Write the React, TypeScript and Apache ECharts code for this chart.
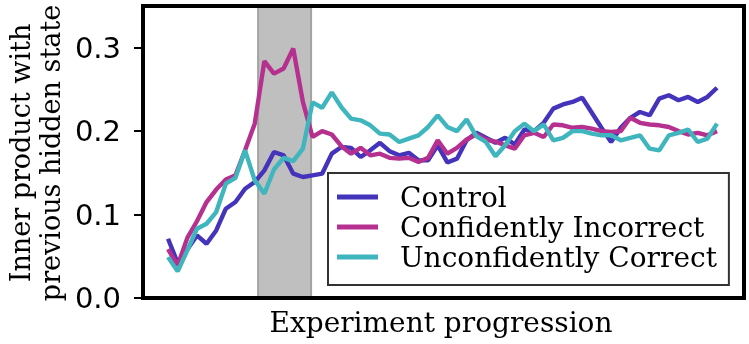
import React, { useEffect, useRef } from "react";
import * as echarts from "echarts";

const steps: number[] = Array.from({ length: 58 }, (_, i) => i);

const control: number[] = [
  0.071, 0.042, 0.058, 0.075, 0.065, 0.081, 0.107, 0.115, 0.131, 0.139,
  0.153, 0.175, 0.171, 0.149, 0.145, 0.147, 0.149, 0.173, 0.181, 0.18,
  0.169, 0.177, 0.186, 0.176, 0.171, 0.174, 0.165, 0.165, 0.183, 0.1625,
  0.167, 0.189, 0.198, 0.192, 0.186, 0.192, 0.184, 0.202, 0.2, 0.21,
  0.227, 0.232, 0.235, 0.24, 0.222, 0.204, 0.187, 0.204, 0.216, 0.223,
  0.219, 0.239, 0.243, 0.237, 0.241, 0.235, 0.241, 0.252,
];

const confidentlyIncorrect: number[] = [
  0.0585, 0.039, 0.072, 0.092, 0.115, 0.13, 0.142, 0.147, 0.177, 0.209,
  0.284, 0.269, 0.275, 0.299, 0.235, 0.193, 0.2, 0.196, 0.182, 0.173,
  0.18, 0.171, 0.173, 0.168, 0.167, 0.168, 0.163, 0.168, 0.189, 0.173,
  0.18, 0.19, 0.196, 0.19, 0.1875, 0.183, 0.179, 0.195, 0.198, 0.193,
  0.208, 0.207, 0.204, 0.205, 0.203, 0.2, 0.199, 0.2, 0.216, 0.21,
  0.208, 0.207, 0.205, 0.2, 0.196, 0.198, 0.195, 0.2,
];

const unconfidentlyCorrect: number[] = [
  0.049, 0.032, 0.057, 0.083, 0.089, 0.103, 0.137, 0.144, 0.177, 0.141,
  0.125, 0.154, 0.168, 0.164, 0.179, 0.2345, 0.228, 0.2465, 0.2286, 0.215,
  0.213, 0.207, 0.197, 0.196, 0.187, 0.191, 0.195, 0.205, 0.219, 0.205,
  0.2, 0.214, 0.194, 0.187, 0.17, 0.183, 0.2, 0.209, 0.2, 0.208,
  0.189, 0.192, 0.2, 0.2, 0.197, 0.195, 0.195, 0.189, 0.192, 0.195,
  0.179, 0.177, 0.195, 0.198, 0.202, 0.187, 0.191, 0.209,
];

const seriesNames: string[] = ["Control", "Confidently Incorrect", "Unconfidently Correct"];
const seriesColors: string[] = ["#4433bb", "#b5308f", "#3fb5bd"];
const shadedSpan: number[] = [9.35, 14.85];
const yTicks: number[] = [0, 0.1, 0.2, 0.3];

export default function App() {
  const ref = useRef<HTMLDivElement>(null);

  useEffect(() => {
    if (!ref.current) return;
    const chart = echarts.init(ref.current, null, { renderer: "svg" });
    const allData = [control, confidentlyIncorrect, unconfidentlyCorrect];
    const lineSeries = allData.map((vals, k) => ({
      name: seriesNames[k],
      type: "line",
      data: steps.map((s, i) => [s, vals[i]]),
      showSymbol: false,
      symbol: "none",
      color: seriesColors[k],
      lineStyle: { width: 4.4, color: seriesColors[k] },
      z: 3,
    }));
    chart.setOption({
      animation: false,
      grid: { left: 143, right: 5, top: 6, bottom: 46, containLabel: false },
      xAxis: {
        type: "value",
        min: -2.6,
        max: 59.8,
        axisLine: { show: false, onZero: false },
        axisTick: { show: false },
        axisLabel: { show: false },
        splitLine: { show: false },
      },
      yAxis: {
        type: "value",
        min: 0,
        max: 0.35,
        interval: 0.1,
        axisLine: { show: false, onZero: false },
        axisTick: {
          show: true,
          length: 9,
          inside: false,
          lineStyle: { color: "#000", width: 2 },
          customValues: yTicks,
        },
        axisLabel: {
          customValues: yTicks,
          formatter: (v: number) => v.toFixed(1),
          fontFamily: "DejaVu Sans",
          fontSize: 29,
          color: "#000",
          margin: 22,
        },
        splitLine: { show: false },
      },
      legend: {
        data: seriesNames,
        orient: "vertical",
        left: 328,
        top: 173,
        icon: "rect",
        itemWidth: 41,
        itemHeight: 5,
        itemGap: 0,
        padding: [9, 12, 13, 9],
        borderColor: "#333",
        borderWidth: 2,
        borderRadius: 0,
        backgroundColor: "#fff",
        textStyle: {
          fontFamily: "DejaVu Serif",
          fontSize: 28,
          color: "#000",
          lineHeight: 30,
          padding: [0, 0, 0, 17],
        },
      },
      graphic: [
        {
          type: "rect",
          shape: { x: 143, y: 6, width: 601, height: 292 },
          style: { fill: "none", stroke: "#000", lineWidth: 4 },
          z: 100,
          silent: true,
        },
        {
          type: "text",
          x: 20,
          y: 153,
          rotation: Math.PI / 2,
          style: {
            text: "Inner product with",
            font: '27px "DejaVu Serif"',
            fill: "#000",
            align: "center",
            verticalAlign: "middle",
          },
        },
        {
          type: "text",
          x: 50,
          y: 153,
          rotation: Math.PI / 2,
          style: {
            text: "previous hidden state",
            font: '27px "DejaVu Serif"',
            fill: "#000",
            align: "center",
            verticalAlign: "middle",
          },
        },
        {
          type: "text",
          x: 441,
          y: 322,
          style: {
            text: "Experiment progression",
            font: '28px "DejaVu Serif"',
            fill: "#000",
            align: "center",
            verticalAlign: "middle",
          },
        },
      ],
      series: [
        {
          name: "shade",
          type: "line",
          data: [],
          z: 1,
          markArea: {
            silent: true,
            itemStyle: { color: "#bfbfbf", borderColor: "#a3a3a3", borderWidth: 2 },
            data: [[{ xAxis: shadedSpan[0] }, { xAxis: shadedSpan[1] }]],
          },
        },
        ...lineSeries,
      ],
    });
    return () => chart.dispose();
  }, []);

  return (
    <div
      ref={ref}
      style={{ position: "fixed", left: 0, top: 0, width: 749, height: 344 }}
    />
  );
}
